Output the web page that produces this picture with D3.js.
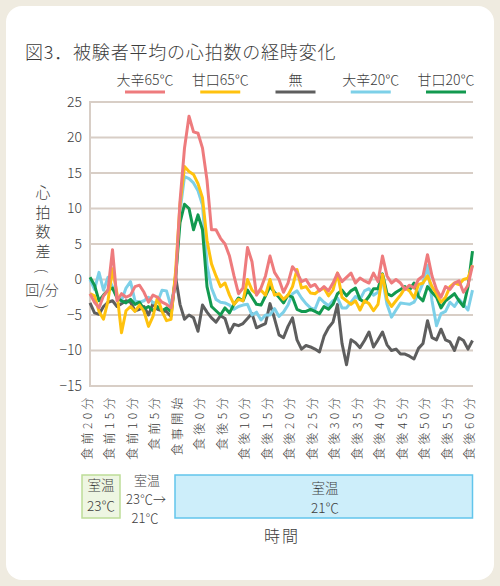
<!DOCTYPE html>
<html><head><meta charset="utf-8">
<script src="https://cdn.jsdelivr.net/npm/d3@7"></script>
<style>
html,body{margin:0;padding:0;background:#efebe0;}
svg{display:block;}
text{font-family:"Noto Sans CJK JP","Noto Sans",sans-serif;fill:#3c3c3c;font-weight:300;}
</style></head><body>
<svg id="c" width="500" height="586"></svg>
<script>
const categories = ["食前20分","食前15分","食前10分","食前5分","食事開始","食後0分","食後5分","食後10分","食後15分","食後20分","食後25分","食後30分","食後35分","食後40分","食後45分","食後50分","食後55分","食後60分"];
const seriesNames = ["大辛65℃","甘口65℃","無","大辛20℃","甘口20℃"];
const yTicks = [25,20,15,10,5,0,-5,-10,-15];

const karakuchi65 = [
-2,-3.2,-4,-2.3,-1.5,4.2,-3,-2,-2.5,-2.2,
-1,-0.8,-1.8,-3.2,-2.2,-2.5,-3.2,-3.5,-4,-0.5,
11,18.5,23,20.8,20.6,18.5,14,7,7,5.8,
5,3.3,0.5,-2,-1.2,4.5,2.5,-2.2,-1.2,0.5,
3.3,1,0,-1.8,-0.5,1.8,1,-0.3,0,-1,
-0.7,-1.6,-1,-1.6,-0.5,0.9,-0.3,0.3,0.9,-0.5,
0.2,-0.2,-0.5,0.9,-0.3,3.3,0.5,-0.5,0,-0.5,
-1.4,-0.8,-1.2,0,0.5,3.5,0.5,-1.4,-2.5,-1,
-1.4,-0.5,-0.2,-1.8,-0.8,2];
const amakuchi65 = [
-2,-2.3,-4.5,-5.6,-3,1.5,-2,-7.5,-4.4,-3.8,
-4.5,-3.6,-4.5,-6.6,-5.2,-2.5,-4.5,-5.8,-5.6,1,
10.5,15.9,15.2,14.8,13.5,11.5,5.5,2.2,0.5,-1,
-0.5,-2.2,-3.5,-2.8,-3,0,-1.5,-2,-1.5,-2.2,
0,-2.2,-2,-2.8,-2.2,-1,1.4,-1.2,-1,-1.9,
-2,-1.5,-1.2,-2.3,-1.5,0.9,-2.5,-3,-3.5,-3,
-4.3,-3,-3.4,-4.4,-3.5,0.7,-2.8,-3.8,-3,-2.2,
-1.2,-1.6,-2.6,-0.7,-0.5,0.5,-1,-2,-3.2,-2.5,
-1,-0.5,-0.7,0,0.2,2];
const nashi = [
-3.3,-4.7,-4.9,-3.8,-3.2,-3,-3.8,-3.4,-3,-3.2,
-4.4,-4.2,-3.8,-5,-3.4,-4.2,-4.4,-4.5,-5.2,0.5,
-3.5,-5.6,-5,-5.4,-7.3,-3.6,-4.6,-5.4,-6,-5.1,
-5.5,-7.5,-6.3,-6.5,-6.2,-5.5,-4.8,-6.8,-6.5,-6.2,
-3.4,-5.5,-7.8,-8.2,-6.6,-5.4,-8.5,-9.8,-9.3,-9.5,
-9.8,-10.2,-8,-6.8,-6,-3.5,-9,-12,-8.5,-8.9,
-9.6,-8.6,-7.4,-9.5,-8.5,-7.4,-9.2,-10,-9.8,-10.5,
-10.5,-10.8,-11.2,-9.7,-9,-5.8,-8.2,-8.5,-7,-8.5,
-8.8,-10,-8.2,-8.6,-9.8,-8.6];
const karakuchi20 = [
0,-1.4,1,-1.5,0.3,-1,-2.5,-3,-1.2,-0.3,
-3,-3.2,-3,-2.5,-3.3,-3.2,-1.5,-1.6,-3.8,0,
9.6,14.5,14.2,13.6,12.5,10.5,2,-1.2,-2.8,-3.2,
-3.3,-3.6,-4.2,-3.8,-3.6,-3.5,-5,-4.6,-5.7,-5,
-5,-4.1,-5.2,-4.6,-3.6,-2,-1.6,-2.6,-3.4,-4,
-4.2,-2.6,-3.2,-3.7,-3,-2.6,-4,-4,-3.2,-2.4,
-2.8,-1.6,-1.3,-2.2,-1.8,0,-3.5,-5.3,-4.3,-3.3,
-3.4,-3.5,-3.2,-2,-0.5,2,-3,-6.5,-4.8,-4.5,
-3.2,-3.8,-2.8,-3.5,-4.3,-1.5];
const amakuchi20 = [
0.3,-0.8,-3,-2.2,-1.5,-1.2,-2.6,-3,-3.3,-2.8,
-3.5,-3.2,-4.2,-3.8,-4.4,-3.8,-4.4,-4,-4.5,0,
8,10.6,10,7,9.1,7,-1,-3.8,-4.4,-5,
-4,-4.7,-3.5,-2.6,-3,-1.5,-2.5,-3.5,-3.6,-2.3,
-1,-1.8,-2.5,-3.3,-2.2,-2.5,-4.2,-4.5,-4.5,-4.2,
-4.5,-4.8,-3.8,-4.2,-3.5,-2,-1.5,-2.3,-1.6,-1.2,
-2.8,-3.2,-2.4,-1.3,-1.3,0.8,-2,-2.3,-1.8,-1.4,
-1,-1.5,-0.5,-2.4,-3,-1,-1.8,-2.5,-4,-3,
-2.5,-2,-3,-3.8,-1,4];

const seriesData = [karakuchi65, amakuchi65, nashi, karakuchi20, amakuchi20];
const colors = ["#ee7b7d","#ffc20e","#5e5e5e","#7dd0e8","#12994f"];
const drawOrder = [2,3,4,1,0];

const svg = d3.select("#c");
svg.append("rect").attr("x",6).attr("y",6).attr("width",488).attr("height",574)
  .attr("rx",16).attr("fill","#ffffff");

// title
svg.append("text").attr("x",25).attr("y",59).attr("font-size",18).attr("letter-spacing",0.8)
  .text("図3．被験者平均の心拍数の経時変化");

const n = karakuchi65.length;
const x = d3.scaleLinear().domain([0, n-1]).range([90, 472.5]);
const y = d3.scaleLinear().domain([-15, 25]).range([386, 102]);

// legend
const lg = d3.scalePoint().domain(seriesNames).range([145, 446]);
seriesNames.forEach((s,i)=>{
  svg.append("text").attr("x",lg(s)).attr("y",85).attr("text-anchor","middle")
    .attr("font-size",14).text(s);
  svg.append("line").attr("x1",lg(s)-20).attr("x2",lg(s)+20).attr("y1",92).attr("y2",92)
    .attr("stroke",colors[i]).attr("stroke-width",3);
});

// grid
const grid = svg.append("g");
yTicks.forEach(t=>{
  grid.append("line").attr("x1",90).attr("x2",473).attr("y1",y(t)).attr("y2",y(t))
    .attr("stroke","#d8cec6").attr("stroke-width",2);
});
grid.append("line").attr("x1",90).attr("x2",90).attr("y1",y(25)-1).attr("y2",y(-15)+1)
  .attr("stroke","#d8cec6").attr("stroke-width",2);

// y axis labels
const yAxis = d3.axisLeft(y).tickValues(yTicks).tickSize(0).tickPadding(8);
const ya = svg.append("g").attr("transform","translate(90,0)").call(yAxis);
ya.select(".domain").remove();
ya.selectAll("text").attr("font-size",14).attr("fill","#3c3c3c").attr("font-weight",300)
  .attr("font-family","'Noto Sans CJK JP','Noto Sans',sans-serif");

// y title
const yt = ["心","拍","数","差"];
yt.forEach((c,i)=>{
  svg.append("text").attr("x",43).attr("y",198+i*19.5).attr("text-anchor","middle")
    .attr("font-size",15).text(c);
});
svg.append("text").attr("transform","translate(42,271) rotate(90)").attr("text-anchor","middle")
  .attr("dy","0.35em").attr("font-size",14).text("(");
svg.append("text").attr("x",42).attr("y",295).attr("text-anchor","middle").attr("font-size",14).text("回/分");
svg.append("text").attr("transform","translate(42,307) rotate(90)").attr("text-anchor","middle")
  .attr("dy","0.35em").attr("font-size",14).text(")");

// x axis labels
const xTickVals = categories.map((c,i)=>i*5);
const xAxis = d3.axisBottom(x).tickValues(xTickVals).tickSize(0)
  .tickFormat((d,i)=>categories[i]);
const xa = svg.append("g").attr("transform","translate(0,386)").call(xAxis);
xa.select(".domain").remove();
xa.selectAll("text")
  .attr("font-size",12).attr("letter-spacing",3.4).attr("fill","#3c3c3c").attr("font-weight",300)
  .attr("font-family","'Noto Sans CJK JP','Noto Sans',sans-serif")
  .attr("text-anchor","end").attr("transform","translate(-3,8) rotate(-90)")
  .attr("x",0).attr("y",0).attr("dy","0.35em");

// lines
const line = d3.line().x((d,i)=>x(i)).y(d=>y(d));
drawOrder.forEach(k=>{
  svg.append("path").datum(seriesData[k]).attr("d",line).attr("fill","none")
    .attr("stroke",colors[k]).attr("stroke-width",3).attr("stroke-linejoin","round");
});

// bottom boxes
svg.append("rect").attr("x",82).attr("y",475).attr("width",38).attr("height",43)
  .attr("fill","#eef6e2").attr("stroke","#bddd98").attr("stroke-width",1.5);
svg.append("text").attr("x",101).attr("y",490).attr("text-anchor","middle").attr("font-size",13.5).text("室温");
svg.append("text").attr("x",101).attr("y",511).attr("text-anchor","middle").attr("font-size",13.5).text("23℃");

svg.append("text").attr("x",147).attr("y",485).attr("text-anchor","middle").attr("font-size",13).text("室温");
svg.append("text").attr("x",146).attr("y",504).attr("text-anchor","middle").attr("font-size",13).text("23℃→");
svg.append("text").attr("x",145).attr("y",523).attr("text-anchor","middle").attr("font-size",13).text("21℃");

svg.append("rect").attr("x",175).attr("y",475).attr("width",297.5).attr("height",43)
  .attr("fill","#cdeefa").attr("stroke","#62c5ec").attr("stroke-width",1.5);
svg.append("text").attr("x",325).attr("y",493).attr("text-anchor","middle").attr("font-size",13.5).text("室温");
svg.append("text").attr("x",325).attr("y",513).attr("text-anchor","middle").attr("font-size",13.5).text("21℃");

svg.append("text").attr("x",282).attr("y",542).attr("text-anchor","middle").attr("font-size",16)
  .attr("letter-spacing",2).text("時間");
</script>
</body></html>
